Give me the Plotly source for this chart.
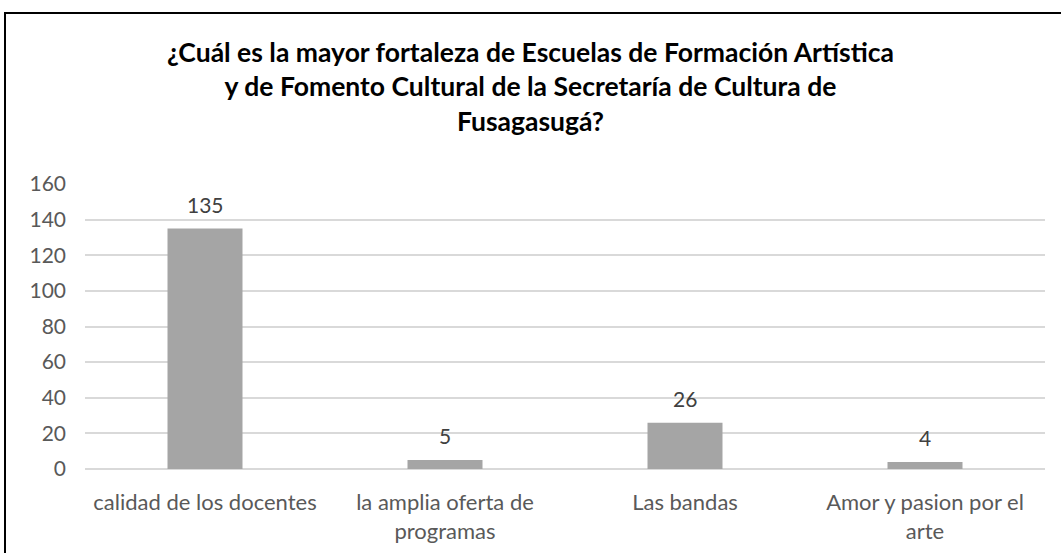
import plotly.graph_objects as go

categories = ["calidad de los docentes", "la amplia oferta de<br>programas", "Las bandas", "Amor y pasion por el<br>arte"]
values = [135, 5, 26, 4]
y_ticks = [0, 20, 40, 60, 80, 100, 120, 140, 160]

title_text = ("<b>¿Cuál es la mayor fortaleza de Escuelas de Formación Artística<br>"
              "y de Fomento Cultural de la Secretaría de Cultura de<br>Fusagasugá?</b>")

W, H = 1061, 553
L, R, T, B = 85, 16, 184, 84
pw, ph = W - L - R, H - T - B
FONT = "Lato"

fig = go.Figure(go.Bar(
    x=categories, y=values,
    marker=dict(color="#a5a5a5", line=dict(width=0)),
    width=0.3125,
    hoverinfo="x+y",
))

for c, v in zip(categories, values):
    fig.add_annotation(x=c, y=v, xref="x", yref="y", text=str(v), showarrow=False,
                       yanchor="bottom", yshift=10,
                       font=dict(family=FONT, size=21, color="#404040"))

# chart title (3 lines) centered over the chart
fig.add_annotation(x=(530 - L) / pw, y=((H - B) - 86) / ph, xref="paper", yref="paper",
                   text=title_text, showarrow=False, xanchor="center", yanchor="middle",
                   align="center", font=dict(family=FONT, size=26.5, color="#000000"))

fig.update_layout(
    width=W, height=H,
    margin=dict(l=L, r=R, t=T, b=B, autoexpand=False),
    paper_bgcolor="white", plot_bgcolor="white",
    font=dict(family=FONT, size=22, color="#595959"),
    xaxis=dict(showgrid=False, showline=False, ticks="", ticklabelstandoff=18, automargin=False,
               tickfont=dict(family=FONT, size=22, color="#595959")),
    yaxis=dict(range=[0, 160], tickvals=y_ticks, showgrid=True, gridcolor="#d9d9d9",
               gridwidth=1.5, zeroline=True, zerolinecolor="#d9d9d9", zerolinewidth=1.5,
               showline=False, ticks="", ticklabelstandoff=18, automargin=False,
               tickfont=dict(family=FONT, size=21, color="#595959")),
    showlegend=False,
    shapes=[dict(type="rect", xref="paper", yref="paper",
                 x0=(5 - L) / pw, x1=(W + 10 - L) / pw,
                 y0=-(H + 10 - (H - B)) / ph, y1=((H - B) - 13) / ph,
                 line=dict(color="#000000", width=2), fillcolor="rgba(0,0,0,0)",
                 layer="below")],
)

fig.write_html("out.html", config={"displayModeBar": False},
               post_script="document.body.style.margin='0';document.body.style.overflow='hidden';")
